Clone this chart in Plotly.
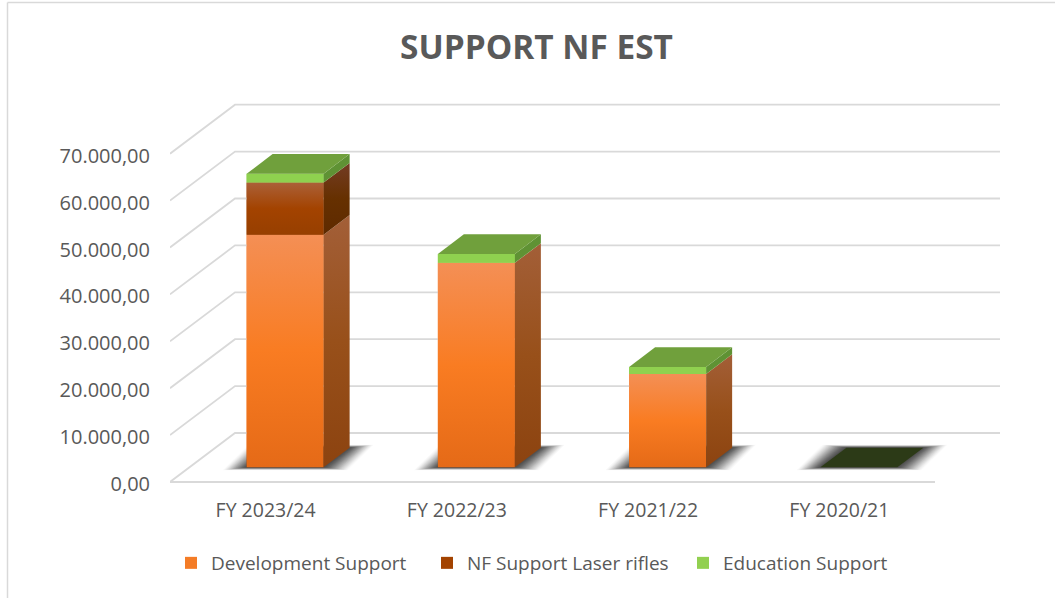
import plotly.graph_objects as go

categories = ["FY 2023/24", "FY 2022/23", "FY 2021/22", "FY 2020/21"]
development = [49600, 43600, 19900, 0]
laser = [11100, 0, 0, 0]
education = [1900, 1900, 1500, 0]
value_ticks = [0, 10000, 20000, 30000, 40000, 50000, 60000, 70000]
value_labels = ["0,00", "10.000,00", "20.000,00", "30.000,00", "40.000,00", "50.000,00", "60.000,00", "70.000,00"]

W, H = 1055, 598
PAD = 10
L, R, T, B = 170, 1005, 105 - PAD, 482 + PAD
band = 191.25
per_val = 46.9 / 10000
x_lo = -0.5
x_hi = x_lo + (R - L) / band
y_lo = -PAD / per_val
y_hi = (482 - T) / per_val
depth_x = 65 / band
depth_y = 49 / per_val
d0, d1 = 0.3, 0.7
bar_w = 77 / band
GRID = "#d9d9d9"
TXT = "#595959"


def proj(x, v, d):
    return x + d * depth_x, v + d * depth_y


def poly(fig, pts, color=None, grad=None):
    xs = [p[0] for p in pts] + [pts[0][0]]
    ys = [p[1] for p in pts] + [pts[0][1]]
    kw = dict(x=xs, y=ys, mode="lines", line=dict(width=0), fill="toself",
              showlegend=False, hoverinfo="skip")
    if grad:
        stops = [[i / (len(grad) - 1), c] for i, c in enumerate(grad)]
        kw["fillgradient"] = dict(type="vertical", colorscale=stops)
        kw["fillcolor"] = grad[0]
    else:
        kw["fillcolor"] = color
    fig.add_trace(go.Scatter(**kw))


series = [
    ("Development Support", development, "#f47c26",
     ["#e56a17", "#f97c22", "#f48f55"], ["#8c4310", "#98501a", "#a35f38"]),
    ("NF Support Laser rifles", laser, "#a34300",
     ["#973f00", "#a34300", "#ab6038"], ["#5e2a00", "#663000", "#733c24"]),
    ("Education Support", education, "#92d050",
     ["#8fd14f", "#8fd14f"], ["#5f9234", "#5f9234"]),
]

fig = go.Figure()

# stacked bars, front plane sits d0 of the way into the floor
cum = [0] * len(categories)
centers = [i + d0 * depth_x for i in range(len(categories))]
for name, vals, col, _, _ in series:
    fig.add_trace(go.Bar(
        x=centers, y=vals, base=[c + d0 * depth_y for c in cum], width=bar_w,
        name=name, marker=dict(color=col, line=dict(width=0)), hoverinfo="skip"))
    cum = [c + v for c, v in zip(cum, vals)]

# wall and floor grid lines
front_end = x_lo + 4
for v in value_ticks:
    a = proj(x_lo, v, 0)
    b = proj(x_lo, v, 1)
    c = proj(front_end, v, 1)
    fig.add_trace(go.Scatter(x=[a[0], b[0], c[0]], y=[a[1], b[1], c[1]], mode="lines",
                             line=dict(color=GRID, width=1.8), showlegend=False, hoverinfo="skip",
                             cliponaxis=False))
fig.add_trace(go.Scatter(x=[x_lo, front_end], y=[0, 0], mode="lines",
                         line=dict(color=GRID, width=1.8), showlegend=False, hoverinfo="skip",
                         cliponaxis=False))

# soft contact shadows on the floor
for i in range(len(categories)):
    xl, xr = i - bar_w / 2, i + bar_w / 2
    for spread in range(24, 0, -1):
        sx = spread / band
        sv = spread * 0.12 / per_val
        pts = [proj(xl - sx, -sv, d0), proj(xr + sx, -sv, d0),
               proj(xr + sx, sv, d1), proj(xl - sx, sv, d1)]
        alpha = 0.02 + 0.09 * (1 - spread / 24)
        poly(fig, pts, color=f"rgba(40,40,40,{alpha:.3f})")

# box faces
for i in range(len(categories)):
    xl, xr = i - bar_w / 2, i + bar_w / 2
    base = 0
    for name, vals, col, front, side in series:
        v = vals[i]
        if v > 0:
            poly(fig, [proj(xl, base, d0), proj(xr, base, d0), proj(xr, base + v, d0), proj(xl, base + v, d0)], grad=front)
            poly(fig, [proj(xr, base, d0), proj(xr, base, d1), proj(xr, base + v, d1), proj(xr, base + v, d0)], grad=side)
        base += v
    top_col = "#70a03c" if base > 0 else "#2c3a17"
    poly(fig, [proj(xl, base, d0), proj(xr, base, d0), proj(xr, base, d1), proj(xl, base, d1)], color=top_col)

px = lambda p: (p - L) / (R - L)
py = lambda p: (B - p) / (B - T)
fig.update_layout(
    width=W, height=H,
    margin=dict(l=L, r=W - R, t=T, b=H - B, autoexpand=False),
    paper_bgcolor="white", plot_bgcolor="white",
    barmode="overlay",
    font=dict(family="Open Sans", color=TXT, size=17),
    title=dict(text="<b>SUPPORT NF EST</b>", x=536.5 / W, xanchor="center", xref="container",
               y=1 - 47 / H, yanchor="middle", yref="container",
               font=dict(family="Open Sans", size=33.4, color=TXT)),
    xaxis=dict(range=[x_lo, x_hi], tickmode="array", tickvals=list(range(len(categories))),
               ticktext=categories, showgrid=False, zeroline=False, showline=False, ticks="",
               ticklabelstandoff=14 - PAD, tickfont=dict(size=19.5), fixedrange=True),
    yaxis=dict(range=[y_lo, y_hi], tickmode="array", tickvals=value_ticks, ticktext=value_labels,
               showgrid=False, zeroline=False, showline=False, ticks="",
               ticklabelstandoff=19, ticklabelshift=2, tickfont=dict(size=20), fixedrange=True),
    legend=dict(orientation="h", x=px(171), xanchor="left", y=py(563), yanchor="middle",
                font=dict(size=19), entrywidth=211, entrywidthmode="pixels",
                bgcolor="rgba(0,0,0,0)", traceorder="normal"),
    shapes=[
        dict(type="line", xref="paper", yref="paper", x0=px(7.5), x1=px(7.5), y0=py(598), y1=py(2.5),
             line=dict(color=GRID, width=1.5)),
        dict(type="line", xref="paper", yref="paper", x0=px(7.5), x1=px(1055), y0=py(2.5), y1=py(2.5),
             line=dict(color=GRID, width=1.5)),
    ],
)
fig.write_html("out.html", config={"displayModeBar": False},
               post_script="document.body.style.margin='0';")
